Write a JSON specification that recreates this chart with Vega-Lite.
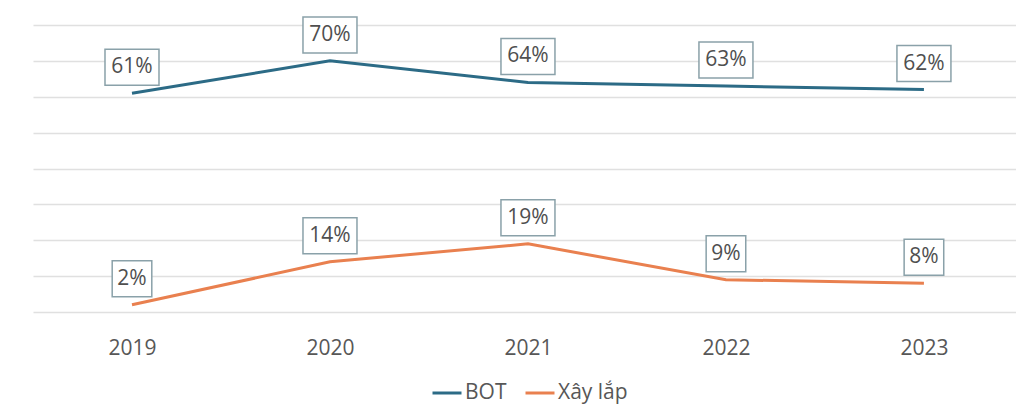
{
  "$schema": "https://vega.github.io/schema/vega-lite/v6.json",
  "width": 983,
  "height": 287,
  "autosize": {"type": "none"},
  "padding": {"left": 33, "top": 25, "right": 0, "bottom": 100},
  "background": "white",
  "config": {"view": {"stroke": null}, "font": "Open Sans"},
  "data": {
    "values": [
      {"year": 2019, "series": "BOT", "value": 0.61},
      {"year": 2020, "series": "BOT", "value": 0.70},
      {"year": 2021, "series": "BOT", "value": 0.64},
      {"year": 2022, "series": "BOT", "value": 0.63},
      {"year": 2023, "series": "BOT", "value": 0.62},
      {"year": 2019, "series": "Xây lắp", "value": 0.02},
      {"year": 2020, "series": "Xây lắp", "value": 0.14},
      {"year": 2021, "series": "Xây lắp", "value": 0.19},
      {"year": 2022, "series": "Xây lắp", "value": 0.09},
      {"year": 2023, "series": "Xây lắp", "value": 0.08}
    ]
  },
  "encoding": {
    "x": {
      "field": "year",
      "type": "quantitative",
      "scale": {"domain": [2018.5, 2023.465], "nice": false, "zero": false},
      "axis": {
        "values": [2019, 2020, 2021, 2022, 2023],
        "format": "d",
        "title": null,
        "grid": false,
        "domain": false,
        "ticks": false,
        "labelPadding": 25,
        "labelFontSize": 21,
        "labelColor": "#575757",
        "labelFlush": false,
        "labelOverlap": false
      }
    },
    "y": {
      "field": "value",
      "type": "quantitative",
      "scale": {"domain": [0, 0.8], "nice": false},
      "axis": {
        "values": [0, 0.1, 0.2, 0.3, 0.4, 0.5, 0.6, 0.7, 0.8],
        "title": null,
        "labels": false,
        "ticks": false,
        "domain": false,
        "grid": true,
        "gridColor": "#e0e0e0",
        "gridWidth": 1.5
      }
    }
  },
  "layer": [
    {
      "mark": {"type": "line", "strokeWidth": 3},
      "encoding": {
        "color": {
          "field": "series",
          "type": "nominal",
          "scale": {"domain": ["BOT", "Xây lắp"], "range": ["#2c6b86", "#e9804f"]},
          "legend": {
            "orient": "none",
            "legendX": 398,
            "legendY": 352,
            "direction": "horizontal",
            "title": null,
            "symbolType": "stroke",
            "symbolSize": 841,
            "symbolStrokeWidth": 3,
            "labelFontSize": 21,
            "labelColor": "#575757",
            "labelOffset": 2,
            "columnPadding": 12
          }
        }
      }
    },
    {
      "transform": [{"filter": "datum.value >= 0.1"}],
      "mark": {
        "type": "point",
        "shape": "M-1.5,-1H1.5V1H-1.5Z",
        "size": 1296,
        "filled": true,
        "fill": "white",
        "stroke": "#8aa1a9",
        "strokeWidth": 1.5,
        "opacity": 1,
        "yOffset": -26
      }
    },
    {
      "transform": [{"filter": "datum.value < 0.1"}],
      "mark": {
        "type": "point",
        "shape": "M-1.1,-1H1.1V1H-1.1Z",
        "size": 1296,
        "filled": true,
        "fill": "white",
        "stroke": "#8aa1a9",
        "strokeWidth": 1.5,
        "opacity": 1,
        "yOffset": -26
      }
    },
    {
      "mark": {
        "type": "text",
        "fontSize": 21,
        "fill": "#4f4f4f",
        "align": "center",
        "baseline": "middle",
        "yOffset": -26
      },
      "encoding": {
        "text": {"field": "value", "type": "quantitative", "format": ".0%"}
      }
    }
  ]
}
